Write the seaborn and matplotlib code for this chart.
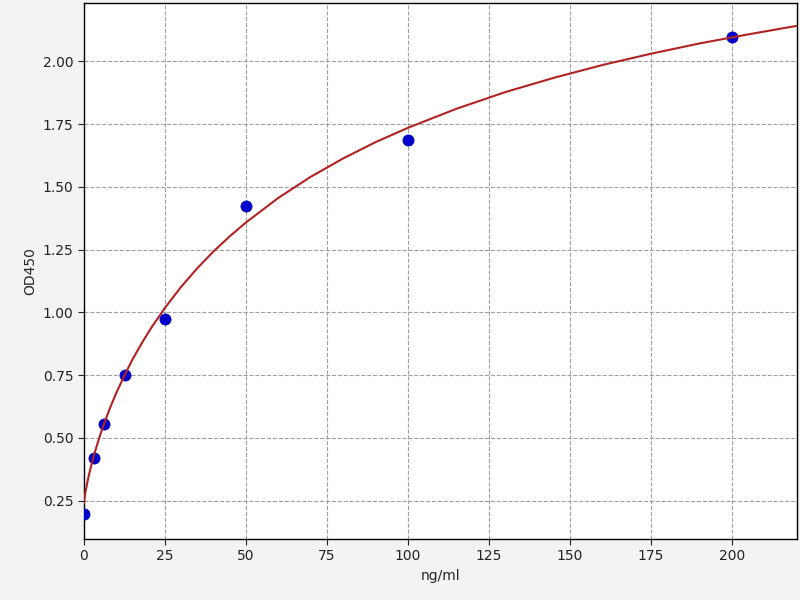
import numpy as np
import pandas as pd
import matplotlib
matplotlib.use("Agg")
import matplotlib.pyplot as plt
import seaborn as sns

# standard points (concentration in ng/ml, measured OD450)
conc = [0, 3.125, 6.25, 12.5, 25, 50, 100, 200]
od450 = [0.198, 0.418, 0.556, 0.751, 0.972, 1.422, 1.688, 2.096]

# fitted curve
curve_x = [0, 0.25, 0.5, 1, 1.5, 2, 3, 4, 5, 6.25, 8, 10, 12.5, 15, 18, 21,
           25, 30, 35, 40, 45, 50, 60, 70, 80, 90, 100, 115, 130, 145, 160,
           175, 190, 205, 220]
curve_y = [0.24, 0.268, 0.288, 0.321, 0.351, 0.378, 0.427, 0.471, 0.512,
           0.558, 0.618, 0.680, 0.749, 0.813, 0.881, 0.943, 1.018, 1.102,
           1.176, 1.243, 1.303, 1.358, 1.456, 1.540, 1.613, 1.678, 1.735,
           1.811, 1.877, 1.934, 1.985, 2.030, 2.071, 2.107, 2.141]

df_points = pd.DataFrame({"conc": conc, "od": od450})
df_curve = pd.DataFrame({"conc": curve_x, "od": curve_y})

sns.set_style("ticks")
plt.rcParams["font.family"] = ["DejaVu Sans"]

fig, ax = plt.subplots(figsize=(8, 6), dpi=100)
fig.patch.set_facecolor("#f3f3f3")
ax.set_facecolor("white")

sns.scatterplot(data=df_points, x="conc", y="od", color="#0000c8",
                s=65, edgecolor="#0000c8", linewidth=0.5, zorder=3, ax=ax)
sns.lineplot(data=df_curve, x="conc", y="od", color="#b22222",
             linewidth=1.5, zorder=4, ax=ax)

ax.set_xlim(0, 220)
ax.set_ylim(0.098, 2.232)
ax.set_xticks([0, 25, 50, 75, 100, 125, 150, 175, 200])
ax.set_yticks([0.25, 0.50, 0.75, 1.00, 1.25, 1.50, 1.75, 2.00])
ax.set_yticklabels([f"{v:.2f}" for v in [0.25, 0.5, 0.75, 1.0, 1.25, 1.5, 1.75, 2.0]])
ax.tick_params(labelsize=10, colors="#222222", length=4)
ax.set_xlabel("ng/ml", fontsize=10)
ax.set_ylabel("OD450", fontsize=10)
ax.grid(True, linestyle="--", color="#a0a0a0", linewidth=0.8)
ax.set_axisbelow(True)
for sp in ax.spines.values():
    sp.set_visible(True)
    sp.set_color("black")
    sp.set_linewidth(1.0)

plt.subplots_adjust(left=0.105, right=0.996, top=0.995, bottom=0.102)
plt.savefig("out.png", dpi=100, facecolor=fig.get_facecolor())
